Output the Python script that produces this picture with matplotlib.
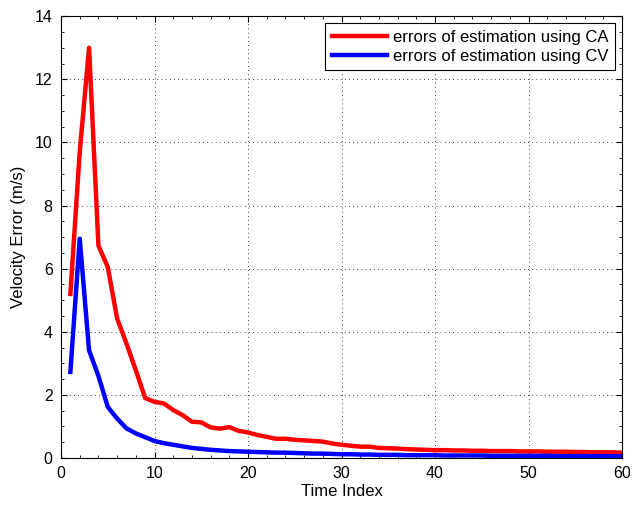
import numpy as np
import matplotlib
matplotlib.use('Agg')
import matplotlib.pyplot as plt
from matplotlib.ticker import AutoMinorLocator

# time index 1..60
t = np.arange(1, 61)

# velocity error, constant acceleration model
err_ca = [5.2, 9.7, 13.0, 6.73, 6.05, 4.42, 3.63, 2.78, 1.9, 1.78,
          1.73, 1.52, 1.36, 1.15, 1.13, 0.97, 0.93, 0.98, 0.86, 0.81,
          0.73, 0.67, 0.61, 0.61, 0.58, 0.56, 0.54, 0.52, 0.46, 0.42,
          0.39, 0.36, 0.36, 0.32, 0.31, 0.30, 0.28, 0.27, 0.26, 0.25,
          0.25, 0.24, 0.24, 0.23, 0.23, 0.22, 0.22, 0.22, 0.21, 0.21,
          0.21, 0.20, 0.20, 0.20, 0.19, 0.19, 0.18, 0.18, 0.18, 0.17]

# velocity error, constant velocity model
err_cv = [2.73, 6.95, 3.41, 2.6, 1.62, 1.25, 0.94, 0.78, 0.66, 0.54,
          0.47, 0.42, 0.37, 0.32, 0.29, 0.26, 0.24, 0.22, 0.21, 0.20,
          0.19, 0.18, 0.17, 0.17, 0.16, 0.15, 0.14, 0.14, 0.13, 0.12,
          0.12, 0.11, 0.11, 0.10, 0.10, 0.10, 0.09, 0.09, 0.09, 0.09,
          0.08, 0.08, 0.08, 0.08, 0.08, 0.07, 0.07, 0.07, 0.07, 0.07,
          0.07, 0.07, 0.06, 0.06, 0.06, 0.06, 0.06, 0.06, 0.06, 0.06]

plt.rcParams['font.family'] = ['Liberation Sans', 'DejaVu Sans']
plt.rcParams['font.size'] = 12

fig = plt.figure(figsize=(6.37, 5.07), dpi=100)
ax = fig.add_axes([0.0958, 0.0966, 0.8807, 0.8714])

ax.plot(t, err_ca, color='r', linewidth=3.2, label='errors of estimation using CA')
ax.plot(t, err_cv, color='b', linewidth=3.2, label='errors of estimation using CV')

ax.set_xlim(0, 60)
ax.set_ylim(0, 14)
ax.set_xticks(range(0, 61, 10))
ax.set_yticks(range(0, 15, 2))
ax.xaxis.set_minor_locator(AutoMinorLocator(5))
ax.yaxis.set_minor_locator(AutoMinorLocator(4))
ax.tick_params(which='both', direction='in', top=True, right=True, labelsize=11.5)
ax.tick_params(which='major', length=4, pad=6)
ax.tick_params(which='minor', length=2)
ax.grid(True, which='major', linestyle=(0, (1, 4)), color='k', linewidth=0.6)

ax.set_xlabel('Time Index', fontsize=12, labelpad=2)
ax.set_ylabel('Velocity Error (m/s)', fontsize=12, labelpad=6)

leg = ax.legend(loc='upper right', fontsize=12, fancybox=False, framealpha=1,
                edgecolor='k', borderaxespad=0.4, handlelength=3.3,
                handletextpad=0.4, borderpad=0.4, labelspacing=0.25)
leg.get_frame().set_linewidth(0.8)

plt.savefig('out.png', dpi=100)
